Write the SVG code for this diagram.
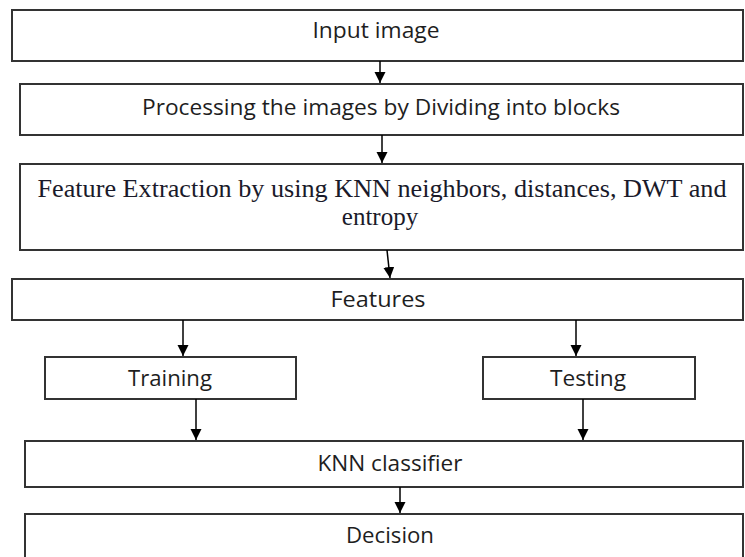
<svg xmlns="http://www.w3.org/2000/svg" width="745" height="557" viewBox="0 0 745 557">
<defs>
<marker id="ah" markerWidth="12" markerHeight="12" refX="11" refY="5.5" orient="auto" markerUnits="userSpaceOnUse">
<path d="M0,0 L11,5.5 L0,11 Z" fill="#000"/>
</marker>
<style>
.box{fill:#fff;stroke:#333;stroke-width:2}
.s{font-family:"Open Sans","Noto Sans","Liberation Sans",sans-serif;font-size:21px;fill:#1e1e1e;text-anchor:middle}
.r{font-family:"Liberation Serif","DejaVu Serif",serif;font-size:25px;fill:#1a1a2a;text-anchor:middle}
.c{stroke:#000;stroke-width:1.5;fill:none;marker-end:url(#ah)}
</style>
</defs>
<rect width="745" height="557" fill="#fff"/>
<g id="input">
<rect class="box" x="12" y="10" width="731" height="51"/>
<text class="s" x="376" y="38" textLength="127" lengthAdjust="spacingAndGlyphs">Input image</text>
</g>
<g id="processing">
<rect class="box" x="20" y="84" width="723" height="51"/>
<text class="s" x="381" y="115" textLength="478" lengthAdjust="spacingAndGlyphs">Processing the images by Dividing into blocks</text>
</g>
<g id="extraction">
<rect class="box" x="20" y="164" width="723" height="86"/>
<text class="r" x="382" y="197" textLength="689" lengthAdjust="spacingAndGlyphs">Feature Extraction by using KNN neighbors, distances, DWT and</text>
<text class="r" x="380" y="225">entropy</text>
</g>
<g id="features">
<rect class="box" x="12" y="279" width="731" height="41"/>
<text class="s" x="378" y="307" textLength="95" lengthAdjust="spacingAndGlyphs">Features</text>
</g>
<g id="training">
<rect class="box" x="45" y="357" width="251" height="42"/>
<text class="s" x="170" y="386" textLength="84" lengthAdjust="spacingAndGlyphs">Training</text>
</g>
<g id="testing">
<rect class="box" x="483" y="357" width="212" height="42"/>
<text class="s" x="588" y="386" textLength="76" lengthAdjust="spacingAndGlyphs">Testing</text>
</g>
<g id="knn">
<rect class="box" x="25" y="441" width="718" height="46"/>
<text class="s" x="390" y="471" textLength="145" lengthAdjust="spacingAndGlyphs">KNN classifier</text>
</g>
<g id="decision">
<rect class="box" x="25" y="514" width="718" height="50"/>
<text class="s" x="390" y="543" textLength="88" lengthAdjust="spacingAndGlyphs">Decision</text>
</g>
<g id="connectors">
<line class="c" x1="380" y1="61" x2="380" y2="83"/>
<line class="c" x1="382" y1="135" x2="382" y2="163"/>
<line class="c" x1="387" y1="250" x2="390" y2="278"/>
<line class="c" x1="183" y1="320" x2="183" y2="356"/>
<line class="c" x1="576" y1="320" x2="576" y2="356"/>
<line class="c" x1="196" y1="399" x2="196" y2="440"/>
<line class="c" x1="583" y1="399" x2="583" y2="440"/>
<line class="c" x1="400" y1="487" x2="400" y2="513"/>
</g>
</svg>
